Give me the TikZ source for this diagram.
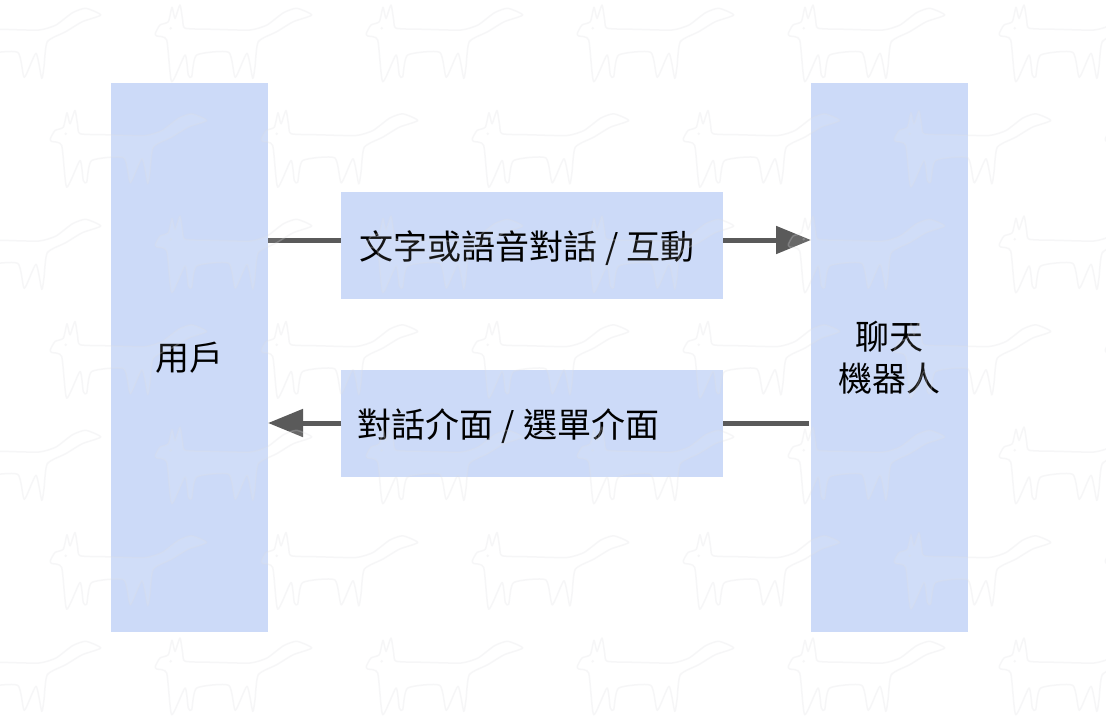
\documentclass[tikz,border=0pt]{standalone}
\usepackage{fontspec}
\setmainfont{Noto Sans CJK TC}
\usetikzlibrary{arrows.meta}
\definecolor{boxblue}{HTML}{CCDAF8}
\definecolor{linkgray}{HTML}{5A5A5A}
\definecolor{wm}{HTML}{DDDEE2}
\newcommand{\slashgap}{\hspace{0.24em}/\hspace{0.24em}}
\tikzset{
  x=1pt,y=-1pt,
  block/.style={fill=boxblue,draw=none,inner sep=0pt,outer sep=0pt,align=center,font=\fontsize{34}{42}\selectfont,text=black},
  labelblock/.style={block,align=left,inner xsep=18pt,text width=346pt,minimum height=107pt,text height=27pt,text depth=0pt},
  link/.style={draw=linkgray,line width=5pt},
  tip/.style={-{Triangle[length=35pt,width=27pt]}},
  wmline/.style={draw=wm,line width=1.5pt,draw opacity=.25,fill=white,fill opacity=.09,line join=round,line cap=round},
  pics/critter/.style={code={
    \path[wmline] plot[smooth cycle,tension=.35] coordinates {
      (0.3,28.3) (5,20) (13.3,16.7) (17,2.3) (20,13.3) (25,0) (27.7,15) (30.3,23.3)
      (58.3,24.3) (95,25) (112,20) (128.5,7.7) (141.7,3.3) (156.7,10) (138.3,16.7) (121.7,26.7)
      (103.3,36.7) (100,61.7) (97.7,73.3) (92,48.3) (80.3,72.3) (73.7,47.3) (41.7,50) (36.7,71.7) (33.3,70) (30,50)
      (16.7,76.7) (11.7,35) (1.7,31)};
    \fill[wm,opacity=.25] (15.7,23.3) circle (1.4pt);
  }},
}
\begin{document}
\begin{tikzpicture}
\useasboundingbox (0,0) rectangle (1106,726);
\fill[white] (0,0) rectangle (1106,726);
\node[block,minimum width=157pt,minimum height=549pt] (user) at (189.5,357.5) {\raisebox{-1pt}{用戶}};
\node[block,minimum width=157pt,minimum height=549pt] (bot) at (889.5,357.5) {聊天\\機器人};
\node[labelblock] (msg) at (532,245.5) {文字或語音對話\slashgap 互動};
\node[labelblock] (ui) at (532,423.5) {\hspace*{-1.5pt}對話介面\slashgap 選單介面};
\coordinate (upper) at (532,240);
\coordinate (lower) at (532,423);
\draw[link] (user.east |- upper) -- (msg.west |- upper);
\draw[link,tip] (msg.east |- upper) -- (bot.west |- upper);
\draw[link] (bot.west |- lower) ++(-2,0) -- (ui.east |- lower);
\draw[link,tip] (ui.west |- lower) -- (user.east |- lower);
\begin{scope}
\clip (0,0) rectangle (1106,726);
\foreach \r in {0,2,4,6}{\foreach \c in {-1,...,4}{
  \pic at ({155+211*\c},{5+105.5*\r}) {critter};}}
\foreach \r in {1,3,5}{\foreach \c in {-1,...,5}{
  \pic at ({50+211*\c},{5+105.5*\r}) {critter};}}
\end{scope}
\end{tikzpicture}
\end{document}
